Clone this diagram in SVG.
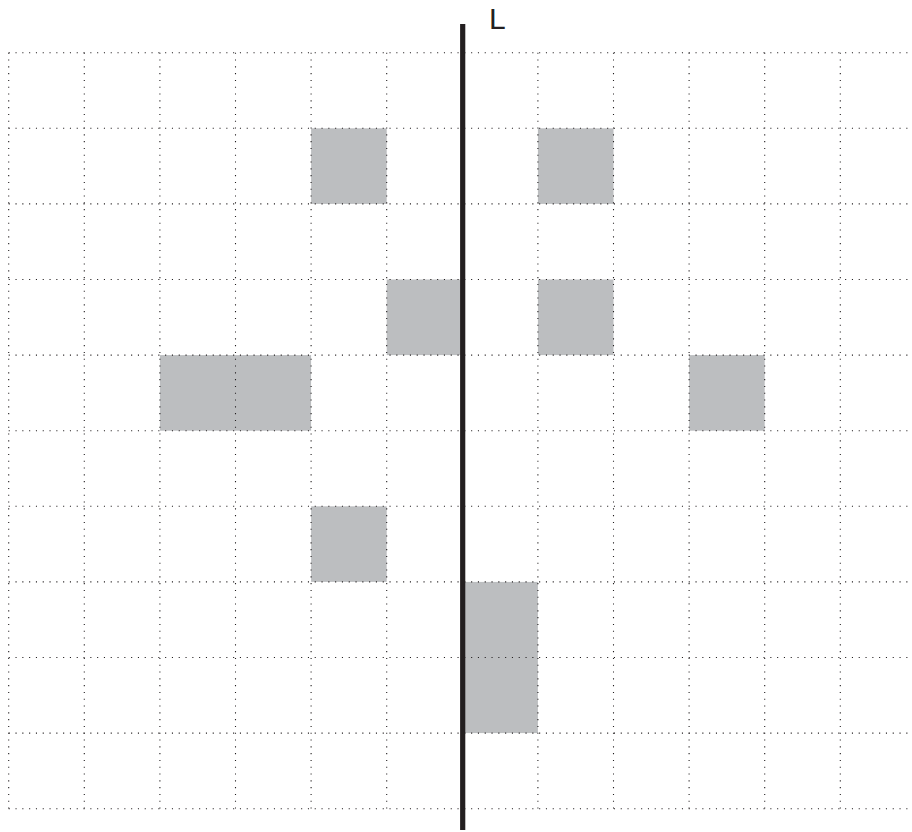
<svg xmlns="http://www.w3.org/2000/svg" width="912" height="832" viewBox="0 0 912 832">
<style>
.cell{fill:#bcbec0;stroke:none}
.grid{stroke:#231f20;stroke-width:1.1;stroke-dasharray:1.1 5.7;fill:none}
.axis{stroke:#231f20;stroke-width:5.2}
.lbl{font-family:"Liberation Sans",Arial,sans-serif;font-size:30px;fill:#231f20}
</style>
<rect width="912" height="832" fill="#fff"/>
<g id="cells">
<rect class="cell" x="311.1" y="128.3" width="75.6" height="75.6"/>
<rect class="cell" x="537.9" y="128.3" width="75.6" height="75.6"/>
<rect class="cell" x="386.7" y="279.5" width="75.6" height="75.6"/>
<rect class="cell" x="537.9" y="279.5" width="75.6" height="75.6"/>
<rect class="cell" x="159.9" y="355.1" width="151.2" height="75.6"/>
<rect class="cell" x="689.1" y="355.1" width="75.6" height="75.6"/>
<rect class="cell" x="311.1" y="506.3" width="75.6" height="75.6"/>
<rect class="cell" x="462.3" y="581.9" width="75.6" height="151.2"/>
</g>
<g id="grid" class="grid">
<path d="M8.7 52.7H912M8.7 128.3H912M8.7 203.9H912M8.7 279.5H912M8.7 355.1H912M8.7 430.7H912M8.7 506.3H912M8.7 581.9H912M8.7 657.5H912M8.7 733.1H912M8.7 808.7H912"/>
<path d="M8.7 52.7V808.7M84.3 52.7V808.7M159.9 52.7V808.7M235.5 52.7V808.7M311.1 52.7V808.7M386.7 52.7V808.7M537.9 52.7V808.7M613.5 52.7V808.7M689.1 52.7V808.7M764.7 52.7V808.7M840.3 52.7V808.7"/>
</g>
<g id="axis">
<line class="axis" x1="462.7" y1="24" x2="462.7" y2="830"/>
<text class="lbl" x="489" y="29">L</text>
</g>
</svg>
